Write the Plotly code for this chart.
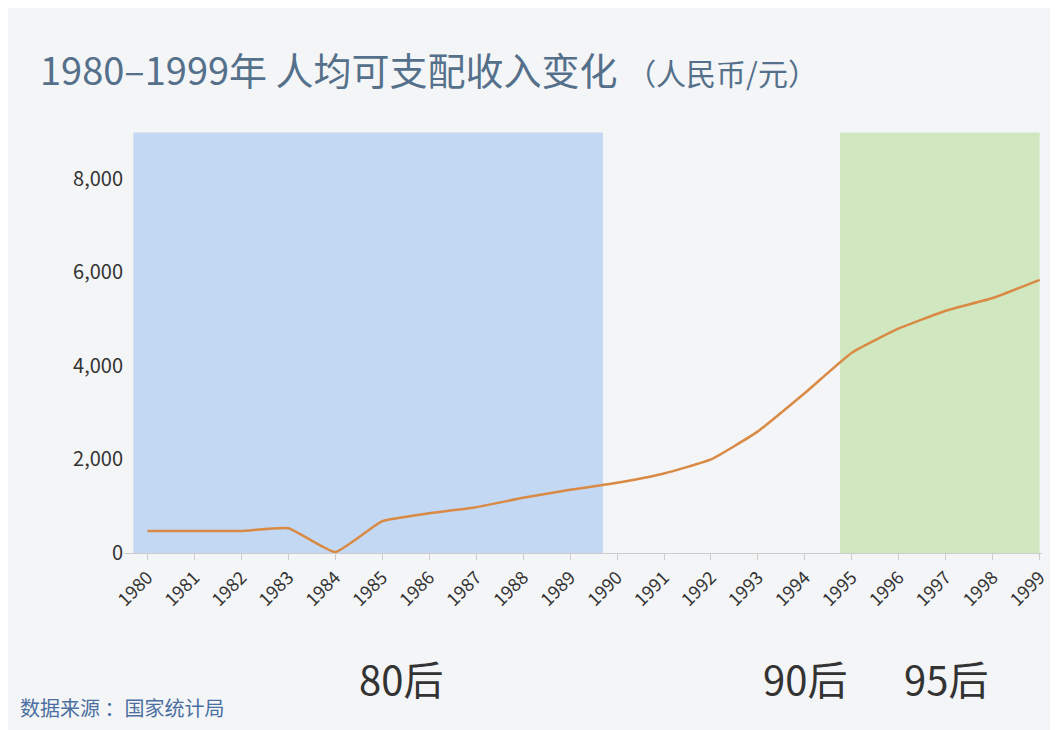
import plotly.graph_objects as go

# 年份与人均可支配收入（元）
years = list(range(1980, 2000))
income = [470, 470, 470, 530, 20, 680, 850, 980, 1180, 1350,
          1500, 1700, 2000, 2600, 3420, 4280, 4800, 5180, 5450, 5840]
y_ticks = [0, 2000, 4000, 6000, 8000]
y_labels = ["0", "2,000", "4,000", "6,000", "8,000"]
bands = [(1979.7, 1989.7, "rgba(190,213,242,0.9)"),
         (1994.75, 1999.0, "rgba(205,230,185,0.9)")]
groups = [("80后", 1985.4), ("90后", 1994.0), ("95后", 1997.0)]

fig = go.Figure()
fig.add_trace(go.Scatter(x=years, y=income, mode="lines",
                         line=dict(color="#d98a45", width=2.5, shape="spline", smoothing=0.4),
                         hoverinfo="x+y"))

for x0, x1, c in bands:
    fig.add_shape(type="rect", x0=x0, x1=x1, y0=0, y1=8990, fillcolor=c,
                  line_width=0, layer="below")

for txt, xp in groups:
    fig.add_annotation(x=xp, y=-0.297, yref="paper", yanchor="middle", text=txt,
                       showarrow=False, font=dict(size=40, color="#333333"), xanchor="center")

fig.add_annotation(x=-0.094, xref="paper", xanchor="left", y=1.152, yref="paper",
                   yanchor="middle",
                   text="1980–1999年 人均可支配收入变化 <span style='font-size:30px'>（人民币/元）</span>",
                   showarrow=False, font=dict(size=38, color="#55708a"))
fig.add_annotation(x=-0.115, xref="paper", xanchor="left", y=-0.368, yref="paper",
                   yanchor="middle", text="数据来源 ：国家统计局", showarrow=False,
                   font=dict(size=20, color="#4a6fa0"))

fig.update_layout(
    width=1058, height=730,
    margin=dict(l=116, r=24, t=124, b=185),
    paper_bgcolor="#f4f5f7", plot_bgcolor="#f4f5f7",
    showlegend=False,
    font=dict(family="Noto Sans CJK SC, Noto Sans, sans-serif", color="#333333"),
    xaxis=dict(range=[1979.5, 1999.05], tickmode="array", tickvals=years,
               ticktext=[str(y) for y in years], tickangle=-45,
               tickfont=dict(size=18, color="#333333"),
               showgrid=False, zeroline=False, showline=True, linecolor="#cccccc",
               ticks="outside", ticklen=6, tickcolor="#cccccc"),
    yaxis=dict(range=[0, 9000], tickmode="array", tickvals=y_ticks, ticktext=y_labels,
               tickfont=dict(size=20, color="#333333"),
               showgrid=False, zeroline=False, showline=False),
)

fig.write_html("out.html")
